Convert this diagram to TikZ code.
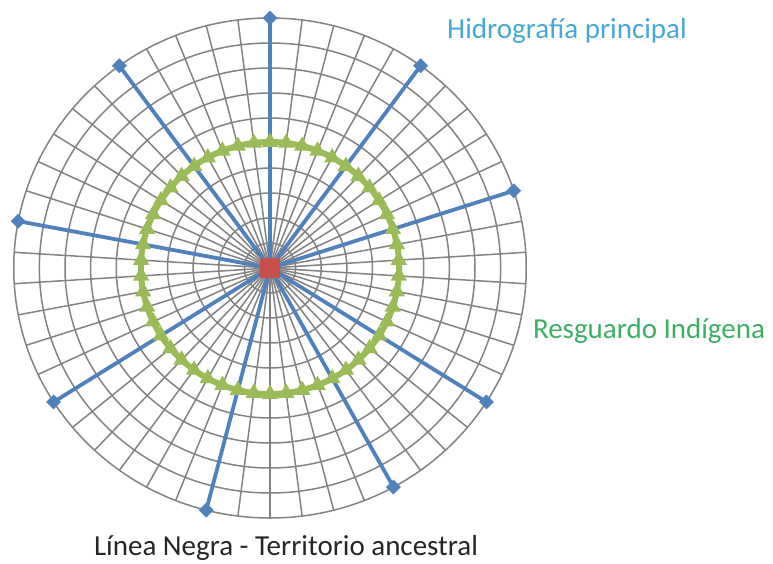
\documentclass[tikz,border=0pt]{standalone}
\usepackage{fontspec}
\setmainfont{Carlito}
\usetikzlibrary{shapes.geometric}
\definecolor{gridgray}{RGB}{130,130,130}
\definecolor{riverblue}{RGB}{79,129,189}
\definecolor{resgreen}{RGB}{155,187,89}
\definecolor{corered}{RGB}{200,78,74}
\definecolor{hidrotext}{RGB}{70,168,216}
\definecolor{resgtext}{RGB}{60,175,100}
\definecolor{lineatext}{RGB}{38,38,38}
\begin{document}
\begin{tikzpicture}[x=1pt,y=1pt]
            \tikzstyle{every node}+=[inner sep=0pt]
            \tikzstyle{gridline}=[gridgray, line width=1.5pt]
            \tikzstyle{river}=[riverblue, line width=3.8pt]
            \tikzstyle{rivermark}=[diamond, fill=riverblue, minimum width=15pt, minimum height=15pt]
            \tikzstyle{resgline}=[resgreen, line width=6pt]
            \tikzstyle{resgmark}=[regular polygon, regular polygon sides=3, fill=resgreen, minimum size=19pt]
            \tikzstyle{hub}=[rectangle, fill=corered, minimum size=20pt]
            \tikzstyle{label}=[font=\fontsize{29}{34}\selectfont]
            \useasboundingbox (-270,-295) rectangle (503,268);
            \begin{scope}[xscale=1.025]
            \coordinate (core) at (0,0);
            % polar grid
            \foreach \k in {1,...,10}
                \draw [gridline] (core) circle (25*\k);
            \foreach \i in {0,...,49}
                \draw [gridline] (core) -- ({90-7.2*\i}:250);
            % main rivers
            \foreach \i in {0,5,10,17,21,27,33,39,45} {
                \coordinate (mouth\i) at ({90-7.2*\i}:250);
                \draw [river] (core) -- (mouth\i);
                \node [rivermark] (tip\i) at (mouth\i) {};
            }
            % resguardo
            \draw [resgline] (core) circle (126);
            \foreach \i in {0,...,49}
                \node [resgmark] (camp\i) at ({90-7.2*\i}:126) {};
            \node [hub] (hub) at (core) {};
            \end{scope}
            \node [label, text=hidrotext] (hidro) at (297,237) {Hidrografía principal};
            \node [label, text=resgtext] (resg) at (379,-63) {Resguardo Indígena};
            \node [label, text=lineatext] (linea) at (16,-280) {Línea Negra - Territorio ancestral};
\end{tikzpicture}
\end{document}
